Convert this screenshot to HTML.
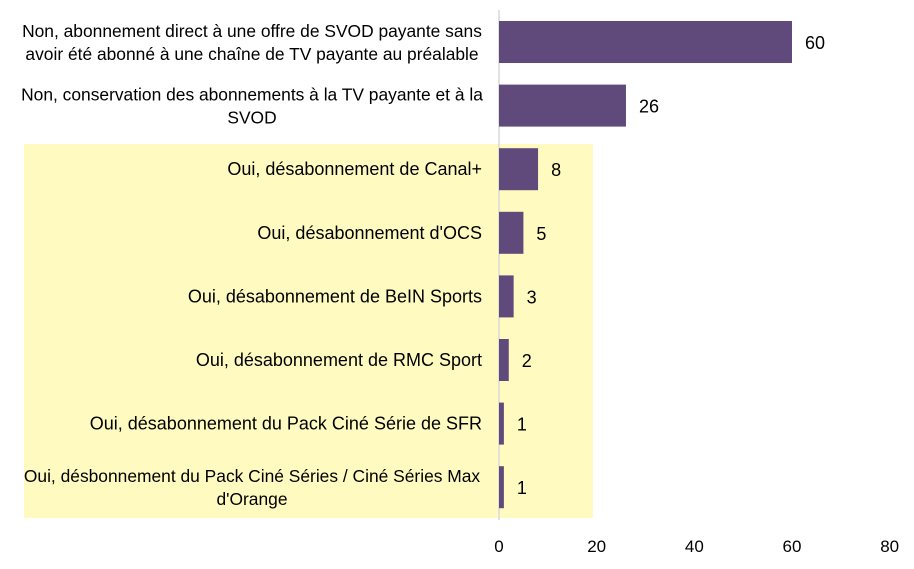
<!DOCTYPE html>
<html><head><meta charset="utf-8"><style>
body{margin:0;background:#fff;width:914px;height:564px;overflow:hidden;font-family:"Liberation Sans",sans-serif}
</style></head><body>
<svg id="c" width="914" height="564" xmlns="http://www.w3.org/2000/svg">
<rect x="24" y="144" width="569" height="374" fill="#fffbc0"/>
<line x1="499" y1="10" x2="499" y2="520" stroke="#d9d9d9" stroke-width="1.5"/>
</svg>
<script>
const categories=[
["Non, abonnement direct à une offre de SVOD payante sans","avoir été abonné à une chaîne de TV payante au préalable"],
["Non, conservation des abonnements à la TV payante et à la","SVOD"],
["Oui, désabonnement de Canal+"],
["Oui, désabonnement d'OCS"],
["Oui, désabonnement de BeIN Sports"],
["Oui, désabonnement de RMC Sport"],
["Oui, désabonnement du Pack Ciné Série de SFR"],
["Oui, désbonnement du Pack Ciné Séries / Ciné Séries Max","d'Orange"]];
const values=[60,26,8,5,3,2,1,1];
const ticks=[0,20,40,60,80];
const svg=document.getElementById('c');
const NS='http://www.w3.org/2000/svg';
const x=v=>499+v*(792-499)/60;
const yc=i=>42+i*63.6;
function t(txt,X,Y,anchor,size){const e=document.createElementNS(NS,'text');e.setAttribute('x',X);e.setAttribute('y',Y);e.setAttribute('text-anchor',anchor);e.setAttribute('font-size',size);e.setAttribute('fill','#000');e.textContent=txt;svg.appendChild(e);return e;}
values.forEach((v,i)=>{
 const r=document.createElementNS(NS,'rect');
 r.setAttribute('x',x(0));r.setAttribute('y',yc(i)-21);r.setAttribute('width',Math.max(x(v)-x(0),1));r.setAttribute('height',42);r.setAttribute('fill','#604a7b');
 
 
 svg.appendChild(r);
 const l=t(String(v),x(v)+13,yc(i)+7,'start',18);
 
 
 const lines=categories[i];
 lines.forEach((s,j)=>{
  const off=lines.length===1?6:(j===0?-5:18);
  const c=t(s,482,yc(i)+off,lines.length===1?'end':'middle',lines.length===1?18:17.4);
  if(lines.length>1){c.setAttribute('x',252);}
  
  
 });
});
ticks.forEach(v=>{
 const e=t(String(v),x(v),552,'middle',17);
 
 
});
</script>
</body></html>
